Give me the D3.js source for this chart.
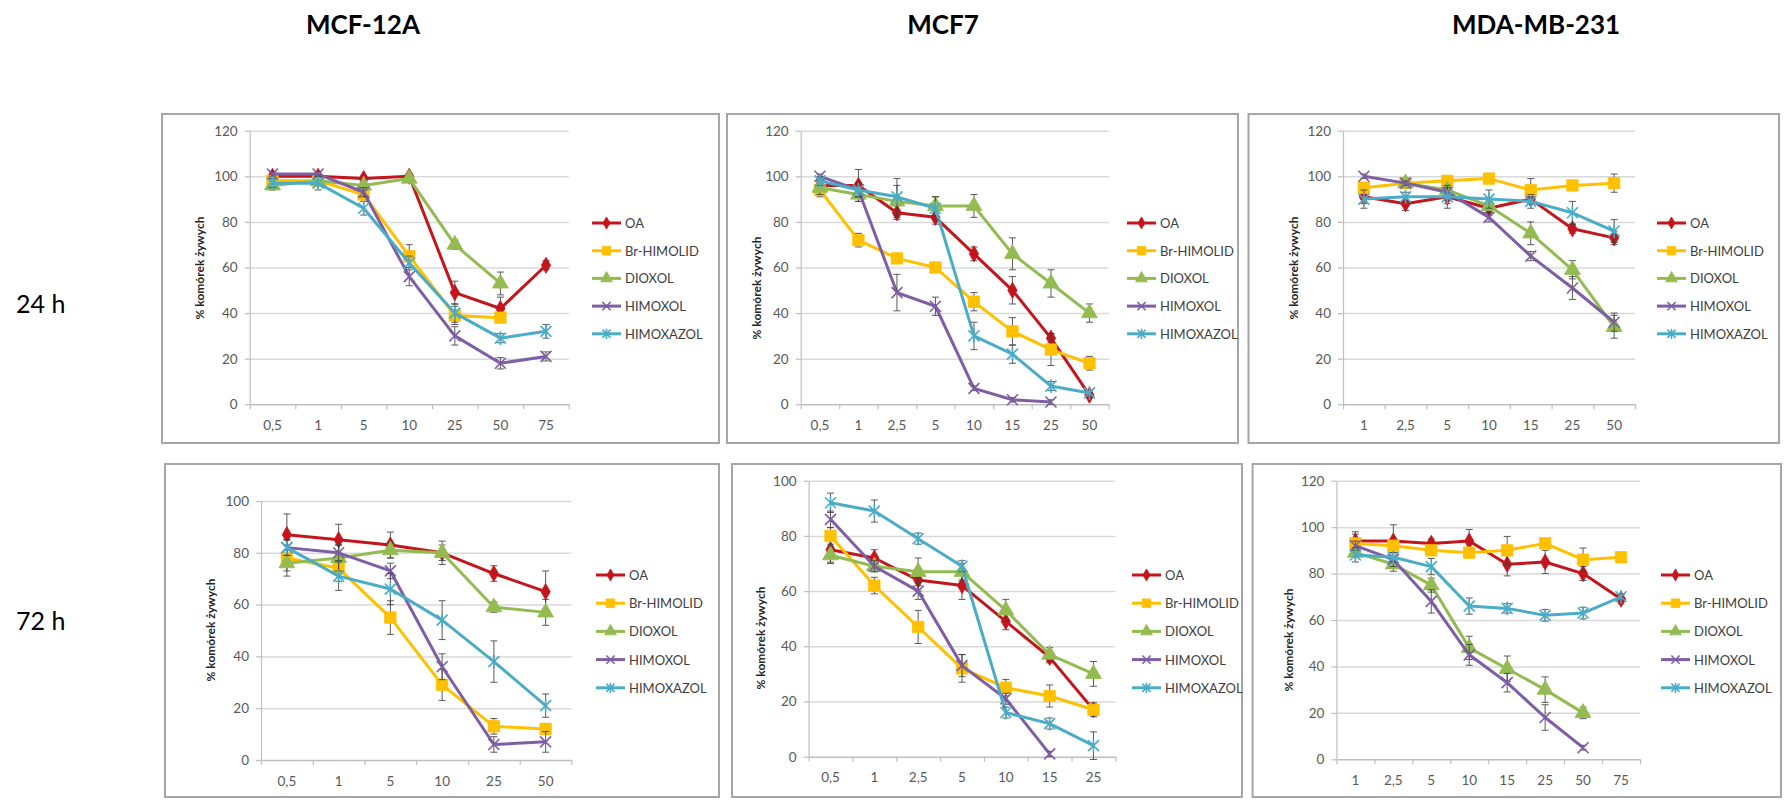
<!DOCTYPE html>
<html>
<head>
<meta charset="utf-8">
<script src="https://cdn.jsdelivr.net/npm/d3@7"></script>
<style>
  body { margin: 0; background: #fff; }
  svg { display: block; }
  text { font-family: Lato, 'Open Sans', sans-serif; }
</style>
</head>
<body>
<svg id="chart" width="1786" height="803"></svg>
<script>
// ---- dane ----
const seriesNames = ['OA', 'Br-HIMOLID', 'DIOXOL', 'HIMOXOL', 'HIMOXAZOL'];
const cellLines = ['MCF-12A', 'MCF7', 'MDA-MB-231'];
const timeLabels = ['24 h', '72 h'];
const yTitle = '% komórek żywych';

// MCF-12A, 24 h
const doses12a24 = ['0,5', '1', '5', '10', '25', '50', '75'];
const ticks12a24 = [0, 20, 40, 60, 80, 100, 120];
const vals12a24 = [
  [100, 100, 99, 100, 49, 42, 61],
  [98, 98, 92, 65, 39, 38, null],
  [96, 98, 96, 99, 70, 53, null],
  [101, 101, 93, 56, 30, 18, 21],
  [97, 97, 86, 62, 40, 29, 32]
];
const errs12a24 = [
  [2, 2, 1, 1, 5, 5, 2],
  [2, 2, 2, 5, 4, 2, null],
  [2, 2, 2, 1, 2, 5, null],
  [1, 1, 2, 4, 4, 2.5, 2],
  [2, 3, 3, 3, 4, 2, 3]
];

// MCF7, 24 h
const doses7_24 = ['0,5', '1', '2,5', '5', '10', '15', '25', '50'];
const ticks7_24 = [0, 20, 40, 60, 80, 100, 120];
const vals7_24 = [
  [96, 96, 84, 82, 66, 50, 29, 4],
  [94, 72, 64, 60, 45, 32, 24, 18],
  [95, 92, 89, 87, 87, 66, 53, 40],
  [100, 94, 49, 43, 7, 2, 1, null],
  [98, 94, 91, 86, 30, 22, 8, 5]
];
const errs7_24 = [
  [2, 7, 3, 3, 3, 6, 2, 1],
  [3, 3, 2, 2, 4, 6, 7, 3],
  [3, 3, 7, 4, 5, 7, 6, 4],
  [1, 3, 8, 4, 1, 1, 1, null],
  [2, 3, 8, 5, 6, 4, 2, 1]
];

// MDA-MB-231, 24 h
const dosesMda24 = ['1', '2,5', '5', '10', '15', '25', '50'];
const ticksMda24 = [0, 20, 40, 60, 80, 100, 120];
const valsMda24 = [
  [91, 88, 91, 86, 90, 77, 73],
  [95, 97, 98, 99, 94, 96, 97],
  [null, 97, 94, 87, 75, 59, 34],
  [100, 97, 93, 82, 65, 51, 36],
  [90, 91, 91, 90, 89, 84, 76]
];
const errsMda24 = [
  [3, 3, 3, 3, 2, 2, 3],
  [2, 2, 2, 1, 5, 2, 4],
  [null, 2, 2, 3, 5, 4, 5],
  [1, 1, 2, 2, 2, 5, 4],
  [4, 2, 5, 4, 3, 5, 5]
];

// MCF-12A, 72 h
const doses12a72 = ['0,5', '1', '5', '10', '25', '50'];
const ticks12a72 = [0, 20, 40, 60, 80, 100];
const vals12a72 = [
  [87, 85, 83, 80, 72, 65],
  [78, 74, 55, 29, 13, 12],
  [76, 78, 81, 80, 59, 57],
  [82, 80, 73, 36, 6, 7],
  [82, 71, 66, 54, 38, 21]
];
const errs12a72 = [
  [8, 6, 5, 4.5, 3, 8],
  [5, 5, 6.5, 6, 3, 2],
  [5, 5, 3, 3, 2, 5],
  [3, 3, 3, 5, 3, 4],
  [3, 5.5, 6, 7.5, 8, 4.5]
];

// MCF7, 72 h
const doses7_72 = ['0,5', '1', '2,5', '5', '10', '15', '25'];
const ticks7_72 = [0, 20, 40, 60, 80, 100];
const vals7_72 = [
  [75, 72, 64, 62, 49, 36, 17],
  [80, 62, 47, 32, 25, 22, 17],
  [73, 69, 67, 67, 53, 37, 30],
  [86, 69, 60, 33, 21, 1, null],
  [92, 89, 79, 69, 16, 12, 4]
];
const errs7_72 = [
  [4.5, 3, 4, 5, 3, 2, 2],
  [3, 3, 6, 5, 3, 4, 2.5],
  [3, 2, 5, 3, 4, 2.5, 4.5],
  [3, 2, 3, 4, 2, 1, null],
  [3.5, 4, 2, 2, 2, 2, 5]
];

// MDA-MB-231, 72 h
const dosesMda72 = ['1', '2,5', '5', '10', '15', '25', '50', '75'];
const ticksMda72 = [0, 20, 40, 60, 80, 100, 120];
const valsMda72 = [
  [94, 94, 93, 94, 84, 85, 80, 69],
  [93, 92, 90, 89, 90, 93, 86, 87],
  [89, 84, 75, 48, 39, 30, 20, null],
  [92, 86, 68, 45, 33, 18, 5, null],
  [88, 87, 83, 66, 65, 62, 63, 70]
];
const errsMda72 = [
  [4, 7, 2, 5, 5, 5, 3, 2],
  [4, 2, 2, 2, 6, 2, 5, 1],
  [2, 3, 3, 5, 5.5, 5.5, 2.5, null],
  [2, 3, 5, 4.5, 4, 5.5, 1, null],
  [3, 2, 3.5, 3.5, 2, 2.5, 2.5, 1]
];

// ---- wygląd ----
const colors = ['#C3161C', '#FFC000', '#94BB52', '#7E5EA5', '#4BACC6'];
const markers = ['diamond', 'square', 'triangle', 'x', 'star'];

const panels = [   // położenie każdego wykresu na stronie
  { doses: doses12a24, ticks: ticks12a24, vals: vals12a24, errs: errs12a24,
    box: [162, 114, 719, 443], x: [249.7, 568.8], y: [404.3, 130.7], title: [199, 268], legend: [592, 223, 27.7] },
  { doses: doses7_24, ticks: ticks7_24, vals: vals7_24, errs: errs7_24,
    box: [727, 114, 1238, 443], x: [800.7, 1108.7], y: [404.3, 130.7], title: [756, 288], legend: [1127, 223, 27.7] },
  { doses: dosesMda24, ticks: ticksMda24, vals: valsMda24, errs: errsMda24,
    box: [1248.5, 114, 1779, 443], x: [1343, 1635], y: [404.3, 130.7], title: [1293, 268], legend: [1657, 223, 27.7] },
  { doses: doses12a72, ticks: ticks12a72, vals: vals12a72, errs: errs12a72,
    box: [165, 464, 719, 797], x: [261, 571.5], y: [760, 501], title: [210, 630], legend: [596, 575, 28.2] },
  { doses: doses7_72, ticks: ticks7_72, vals: vals7_72, errs: errs7_72,
    box: [732, 464, 1242, 797], x: [808.6, 1115.4], y: [756.7, 480.7], title: [760, 638], legend: [1132, 575, 28.2] },
  { doses: dosesMda72, ticks: ticksMda72, vals: valsMda72, errs: errsMda72,
    box: [1252.6, 464, 1781, 797], x: [1336.4, 1640], y: [759.3, 480.7], title: [1288, 640], legend: [1661, 575, 28.2] }
];

const svg = d3.select('#chart');

// nagłówki kolumn i wierszy
const colX = [363, 943, 1536];
svg.selectAll('text.col').data(cellLines).enter().append('text')
  .attr('class', 'col')
  .attr('x', (d, i) => colX[i]).attr('y', 34)
  .attr('text-anchor', 'middle')
  .attr('font-size', 26).attr('font-weight', 700).attr('fill', '#000')
  .text(d => d);

const rowY = [313, 630];
svg.selectAll('text.row').data(timeLabels).enter().append('text')
  .attr('class', 'row')
  .attr('x', 16).attr('y', (d, i) => rowY[i])
  .attr('font-size', 25).attr('fill', '#000')
  .text(d => d);

function markerPath(kind, s) {              // kształt znacznika serii
  const r = 5.5 * s;
  switch (kind) {
    case 'diamond': return d3.symbol(d3.symbolDiamond, 75 * s * s)();
    case 'square': return d3.symbol(d3.symbolSquare, 130 * s * s)();
    case 'triangle': return d3.symbol(d3.symbolTriangle, 110 * s * s)();
    case 'x': return `M${-r},${-r}L${r},${r}M${-r},${r}L${r},${-r}`;
    default: return `M${-r},${-r}L${r},${r}M${-r},${r}L${r},${-r}M0,${-r * 1.25}L0,${r * 1.25}`;
  }
}

function addMarker(g, k, s) {
  const open = markers[k] === 'x' || markers[k] === 'star';
  return g.append('path')
    .attr('d', markerPath(markers[k], s))
    .attr('fill', open ? 'none' : colors[k])
    .attr('stroke', colors[k])
    .attr('stroke-width', open ? 1.6 : 0.8);
}

panels.forEach(p => {
  const [bx0, by0, bx1, by1] = p.box;
  const g = svg.append('g');

  g.append('rect')
    .attr('x', bx0).attr('y', by0)
    .attr('width', bx1 - bx0).attr('height', by1 - by0)
    .attr('fill', '#fff').attr('stroke', '#A6A6A6').attr('stroke-width', 2);

  const x = d3.scaleBand().domain(p.doses).range(p.x).padding(0);
  const xEdge = d3.scaleLinear().domain([0, p.doses.length]).range(p.x);
  const y = d3.scaleLinear().domain([0, d3.max(p.ticks)]).range(p.y);
  const w = p.x[1] - p.x[0];
  const cx = d => x(d) + x.bandwidth() / 2;

  // linie siatki
  g.append('g')
    .attr('transform', `translate(${p.x[0]},0)`)
    .call(d3.axisLeft(y).tickValues(p.ticks.filter(t => t > 0)).tickSize(-w).tickFormat(''))
    .call(a => a.select('.domain').remove())
    .call(a => a.selectAll('line').attr('stroke', '#D9D9D9').attr('stroke-width', 1.5));

  // oś Y
  g.append('g')
    .attr('transform', `translate(${p.x[0]},0)`)
    .call(d3.axisLeft(y).tickValues(p.ticks).tickSize(5).tickSizeOuter(0).tickPadding(7))
    .call(a => a.select('.domain').attr('stroke', '#BFBFBF').attr('stroke-width', 1.2))
    .call(a => a.selectAll('line').attr('stroke', '#BFBFBF').attr('stroke-width', 1.2))
    .call(a => a.selectAll('text').attr('font-size', 13.5).attr('fill', '#595959')
      .attr('font-family', "Lato, 'Open Sans', sans-serif"));

  // oś X: kreski na granicach kategorii, etykiety na środku
  g.append('g')
    .attr('transform', `translate(0,${p.y[0]})`)
    .call(d3.axisBottom(xEdge).tickValues(d3.range(p.doses.length + 1)).tickSize(5).tickSizeOuter(0).tickFormat(''))
    .call(a => a.select('.domain').attr('stroke', '#BFBFBF').attr('stroke-width', 1.5))
    .call(a => a.selectAll('line').attr('stroke', '#BFBFBF').attr('stroke-width', 1.2));

  g.append('g')
    .attr('transform', `translate(0,${p.y[0]})`)
    .call(d3.axisBottom(x).tickSize(0))
    .call(a => a.select('.domain').remove())
    .call(a => a.selectAll('text').attr('y', 21).attr('dy', '0.35em')
      .attr('font-size', 13.5).attr('fill', '#595959')
      .attr('font-family', "Lato, 'Open Sans', sans-serif"));

  // tytuł osi Y
  g.append('text')
    .attr('transform', `translate(${p.title[0]},${p.title[1]}) rotate(-90)`)
    .attr('text-anchor', 'middle').attr('dominant-baseline', 'central')
    .attr('font-size', 12).attr('font-weight', 700).attr('fill', '#262626')
    .text(yTitle);

  const line = d3.line()
    .defined(d => d.v != null)
    .x(d => cx(d.dose))
    .y(d => y(d.v));

  // serie: linia, słupki błędów, znaczniki
  p.vals.forEach((vals, k) => {
    const pts = vals.map((v, i) => ({ dose: p.doses[i], v: v, e: p.errs[k][i] }));
    g.append('path')
      .datum(pts)
      .attr('d', line)
      .attr('fill', 'none')
      .attr('stroke', colors[k])
      .attr('stroke-width', 3)
      .attr('stroke-linejoin', 'round');

    const eb = g.append('g').attr('stroke', '#3f3f3f').attr('stroke-width', 1).attr('opacity', 0.85);
    pts.filter(d => d.v != null && d.e).forEach(d => {
      const px = cx(d.dose), y0 = y(d.v - d.e), y1 = y(d.v + d.e);
      eb.append('line').attr('x1', px).attr('x2', px).attr('y1', y0).attr('y2', y1);
      eb.append('line').attr('x1', px - 3.5).attr('x2', px + 3.5).attr('y1', y0).attr('y2', y0);
      eb.append('line').attr('x1', px - 3.5).attr('x2', px + 3.5).attr('y1', y1).attr('y2', y1);
    });

    pts.filter(d => d.v != null).forEach(d => {
      addMarker(g, k, 1).attr('transform', `translate(${cx(d.dose)},${y(d.v)})`);
    });
  });

  // legenda
  const [lx, ly, step] = p.legend;
  seriesNames.forEach((name, k) => {
    const row = g.append('g').attr('transform', `translate(${lx},${ly + k * step})`);
    row.append('line').attr('x1', 0).attr('x2', 29).attr('y1', 0).attr('y2', 0)
      .attr('stroke', colors[k]).attr('stroke-width', 3);
    addMarker(row, k, 0.75).attr('transform', 'translate(14.5,0)');
    row.append('text')
      .attr('x', 33).attr('y', 0).attr('dominant-baseline', 'central')
      .attr('font-size', 13).attr('fill', '#404040')
      .text(name);
  });
});
</script>
</body>
</html>
